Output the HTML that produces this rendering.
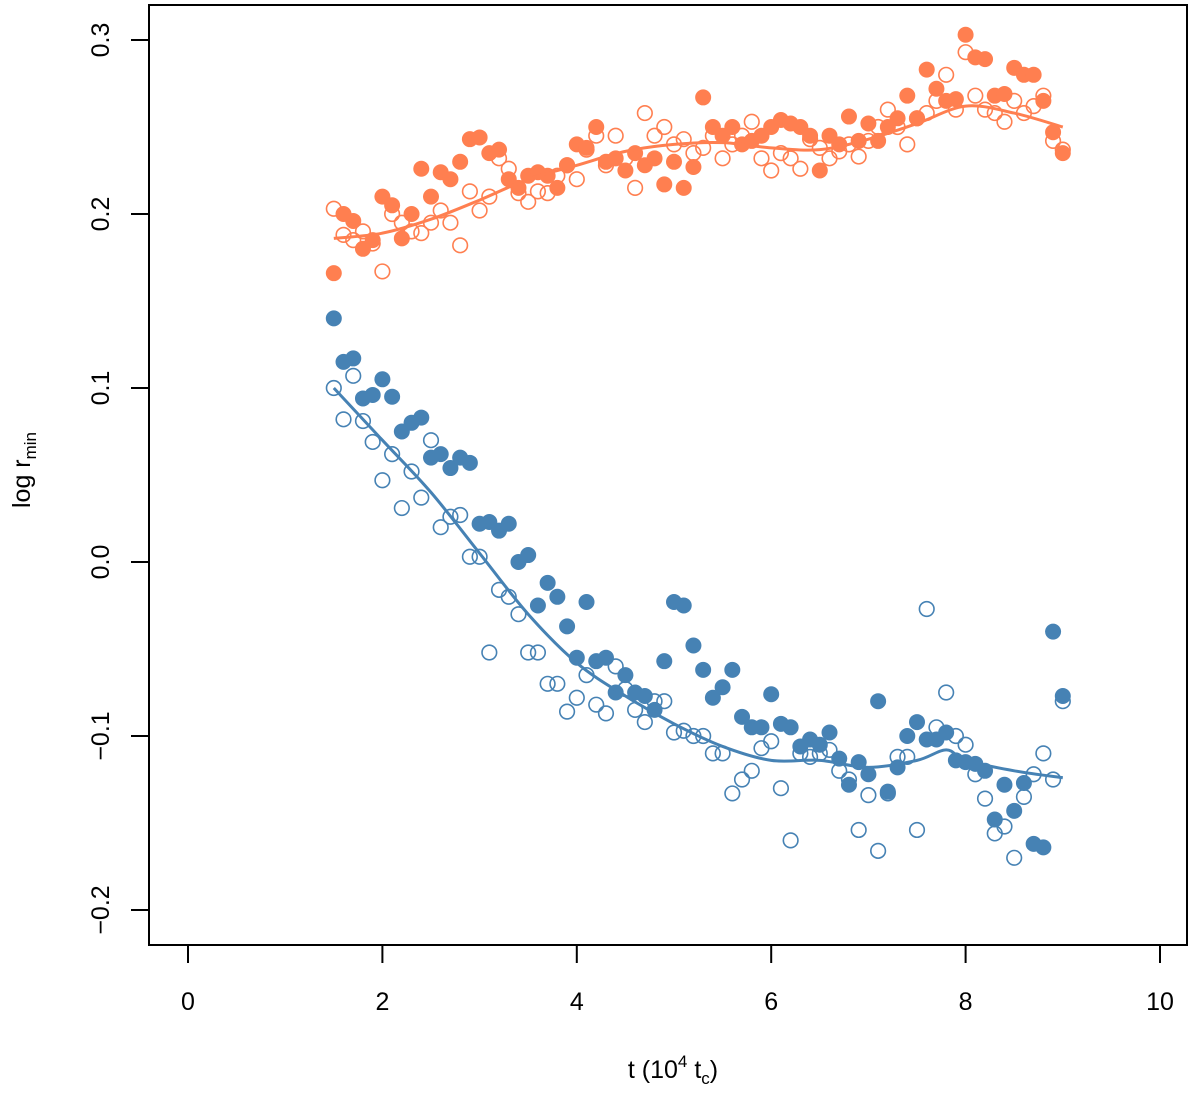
<!DOCTYPE html>
<html><head><meta charset="utf-8"><style>
body{margin:0;background:#fff}
svg text{font-family:"Liberation Sans",Arial,sans-serif;fill:#000}
</style></head><body>
<svg id="chart" width="1200" height="1091" viewBox="0 0 1200 1091">
<rect x="149" y="5" width="1038" height="940" fill="none" stroke="#000" stroke-width="2"/>
<g id="xaxis"></g>
<g id="yaxis"></g>
<g id="marks"></g>
<text x="673" y="1078" font-size="25" text-anchor="middle">t  (10<tspan font-size="17" dy="-11">4</tspan><tspan dy="11"> t</tspan><tspan font-size="17" dy="6">c</tspan><tspan dy="-6">)</tspan></text>
<text transform="translate(30,470) rotate(-90)" font-size="25" text-anchor="middle">log r<tspan font-size="17" dy="6">min</tspan></text>
</svg>
<script>
const tVals=[1.5,1.6,1.7,1.8,1.9,2.0,2.1,2.2,2.3,2.4,2.5,2.6,2.7,2.8,2.9,3.0,3.1,3.2,3.3,3.4,3.5,3.6,3.7,3.8,3.9,4.0,4.1,4.2,4.3,4.4,4.5,4.6,4.7,4.8,4.9,5.0,5.1,5.2,5.3,5.4,5.5,5.6,5.7,5.8,5.9,6.0,6.1,6.2,6.3,6.4,6.5,6.6,6.7,6.8,6.9,7.0,7.1,7.2,7.3,7.4,7.5,7.6,7.7,7.8,7.9,8.0,8.1,8.2,8.3,8.4,8.5,8.6,8.7,8.8,8.9,9.0];
const orangeFilled=[0.166,0.200,0.196,0.180,0.185,0.210,0.205,0.186,0.200,0.226,0.210,0.224,0.220,0.230,0.243,0.244,0.235,0.237,0.220,0.215,0.222,0.224,0.222,0.215,0.228,0.240,0.238,0.250,0.230,0.232,0.225,0.235,0.228,0.232,0.217,0.230,0.215,0.227,0.267,0.250,0.245,0.250,0.240,0.242,0.245,0.250,0.254,0.252,0.250,0.245,0.225,0.245,0.240,0.256,0.242,0.252,0.242,0.250,0.255,0.268,0.255,0.283,0.272,0.265,0.266,0.303,0.290,0.289,0.268,0.269,0.284,0.280,0.280,0.265,0.247,0.235];
const orangeOpen=[0.203,0.188,0.185,0.190,0.183,0.167,0.200,0.195,0.190,0.189,0.195,0.202,0.195,0.182,0.213,0.202,0.210,0.232,0.226,0.212,0.207,0.213,0.212,0.222,0.228,0.220,0.237,0.245,0.228,0.245,0.232,0.215,0.258,0.245,0.250,0.240,0.243,0.235,0.238,0.245,0.232,0.240,0.245,0.253,0.232,0.225,0.235,0.232,0.226,0.243,0.238,0.232,0.236,0.240,0.233,0.242,0.250,0.260,0.250,0.240,0.255,0.258,0.265,0.280,0.260,0.293,0.268,0.260,0.258,0.253,0.265,0.258,0.262,0.268,0.242,0.237];
const blueFilled=[0.140,0.115,0.117,0.094,0.096,0.105,0.095,0.075,0.080,0.083,0.060,0.062,0.054,0.060,0.057,0.022,0.023,0.018,0.022,0.000,0.004,-0.025,-0.012,-0.020,-0.037,-0.055,-0.023,-0.057,-0.055,-0.075,-0.065,-0.075,-0.077,-0.085,-0.057,-0.023,-0.025,-0.048,-0.062,-0.078,-0.072,-0.062,-0.089,-0.095,-0.095,-0.076,-0.093,-0.095,-0.106,-0.102,-0.105,-0.098,-0.113,-0.128,-0.115,-0.122,-0.080,-0.132,-0.118,-0.100,-0.092,-0.102,-0.102,-0.098,-0.114,-0.115,-0.116,-0.120,-0.148,-0.128,-0.143,-0.127,-0.162,-0.164,-0.040,-0.077];
const blueOpen=[0.100,0.082,0.107,0.081,0.069,0.047,0.062,0.031,0.052,0.037,0.070,0.020,0.026,0.027,0.003,0.003,-0.052,-0.016,-0.020,-0.030,-0.052,-0.052,-0.070,-0.070,-0.086,-0.078,-0.065,-0.082,-0.087,-0.060,-0.073,-0.085,-0.092,-0.080,-0.080,-0.098,-0.097,-0.100,-0.100,-0.110,-0.110,-0.133,-0.125,-0.120,-0.107,-0.103,-0.130,-0.160,-0.110,-0.112,-0.110,-0.108,-0.120,-0.125,-0.154,-0.134,-0.166,-0.133,-0.112,-0.112,-0.154,-0.027,-0.095,-0.075,-0.100,-0.105,-0.122,-0.136,-0.156,-0.152,-0.170,-0.135,-0.122,-0.110,-0.125,-0.080];
const orangeLineT=[1.5,2.0,2.5,3.0,3.5,4.0,4.5,5.0,5.5,6.0,6.5,7.0,7.5,8.0,8.5,9.0];
const orangeLineV=[0.186,0.189,0.197,0.208,0.220,0.228,0.236,0.240,0.241,0.238,0.237,0.243,0.252,0.262,0.258,0.250];
const blueLineT=[1.5,2.0,2.5,3.0,3.5,4.0,4.5,5.0,5.5,6.0,6.5,7.0,7.5,7.8,8.0,8.5,9.0];
const blueLineV=[0.100,0.070,0.040,0.005,-0.030,-0.058,-0.077,-0.093,-0.106,-0.114,-0.114,-0.118,-0.114,-0.108,-0.114,-0.120,-0.124];
const xTicks=[0,2,4,6,8,10];
const yTicks=[-0.2,-0.1,0.0,0.1,0.2,0.3];
const yTickLabels=["\u22120.2","\u22120.1","0.0","0.1","0.2","0.3"];

const NS="http://www.w3.org/2000/svg";
const xs=v=>188+v*97.2;
const ys=v=>562-v*1740;
function mk(tag,attrs,parent){const e=document.createElementNS(NS,tag);for(const k in attrs)e.setAttribute(k,attrs[k]);parent.appendChild(e);return e;}
const xg=document.getElementById('xaxis'),yg=document.getElementById('yaxis'),mg=document.getElementById('marks');
xTicks.forEach(v=>{
  const l=mk('line',{x1:xs(v),x2:xs(v),y1:945,y2:963,stroke:'#000','stroke-width':2},xg);
  
  
  const t=mk('text',{x:xs(v),y:1010,'font-size':25,'text-anchor':'middle'},xg);t.textContent=v;
  
  
});
yTicks.forEach((v,i)=>{
  const l=mk('line',{x1:131,x2:149,y1:ys(v),y2:ys(v),stroke:'#000','stroke-width':2},yg);
  
  
  const t=mk('text',{transform:`translate(109,${ys(v)}) rotate(-90)`,'font-size':25,'text-anchor':'middle'},yg);t.textContent=yTickLabels[i];
  
  
});
const OR='#FF7F50',BL='#4682B4';
function pts(vals,color,filled,name){
  vals.forEach((v,i)=>{
    const c=mk('circle',{cx:xs(tVals[i]),cy:ys(v),r:filled?8:7.3,fill:filled?color:'none',stroke:color,'stroke-width':filled?0:1.6},mg);
    
    
  });
}
function curve(T,V,color,name){
  const P=T.map((t,i)=>[xs(t),ys(V[i])]);
  let d=`M${P[0][0]},${P[0][1]}`;
  for(let i=0;i<P.length-1;i++){
    const p0=P[Math.max(0,i-1)],p1=P[i],p2=P[i+1],p3=P[Math.min(P.length-1,i+2)];
    d+=` C${p1[0]+(p2[0]-p0[0])/6},${p1[1]+(p2[1]-p0[1])/6} ${p2[0]-(p3[0]-p1[0])/6},${p2[1]-(p3[1]-p1[1])/6} ${p2[0]},${p2[1]}`;
  }
  const p=mk('path',{d:d,fill:'none',stroke:color,'stroke-width':3},mg);
  
  
}
pts(orangeOpen,OR,false,'orange-open-point');
pts(orangeFilled,OR,true,'orange-filled-point');
pts(blueOpen,BL,false,'blue-open-point');
pts(blueFilled,BL,true,'blue-filled-point');
curve(orangeLineT,orangeLineV,OR,'orange-trend-line');
curve(blueLineT,blueLineV,BL,'blue-trend-line');
</script>
</body></html>
